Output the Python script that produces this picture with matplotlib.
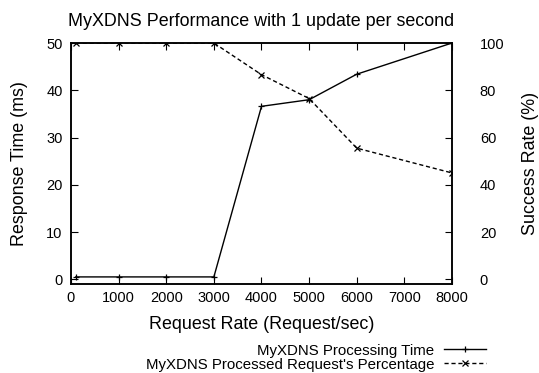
import numpy as np
import matplotlib.pyplot as plt
from matplotlib.lines import Line2D

plt.rcParams['font.family'] = ['Liberation Sans', 'DejaVu Sans']

rate = [100, 1000, 2000, 3000, 4000, 5000, 6000, 8000]
resp_time = [0.5, 0.5, 0.5, 0.5, 36.6, 38.0, 43.4, 50.0]
success = [100, 100, 100, 100, 86.6, 76.5, 55.5, 45.0]

title = "MyXDNS Performance with 1 update per second"
xlabel = "Request Rate (Request/sec)"
ylabel = "Response Time (ms)"
y2label = "Success Rate (%)"
label1 = "MyXDNS Processing Time"
label2 = "MyXDNS Processed Request's Percentage"

fig = plt.figure(figsize=(5.39, 3.73), dpi=100)
ax = fig.add_axes([0.1317, 0.2386, 0.7069, 0.6461])
ax2 = ax.twinx()

ax.plot(rate, resp_time, color='black', lw=1.0, marker='+', ms=5, mew=0.9)
ax2.plot(rate, success, color='black', lw=1.0, ls=(0, (3, 2)), marker='x', ms=4.5, mew=0.9)

ax.set_xlim(0, 8000)
ax.set_ylim(-1, 50)
ax2.set_ylim(-2, 100)
ax.set_xticks(np.arange(0, 8001, 1000))
ax.set_yticks(np.arange(0, 51, 10))
ax2.set_yticks(np.arange(0, 101, 20))

ax.tick_params(axis='x', direction='in', top=True, labelsize=10.5, length=5, pad=5)
ax.tick_params(axis='y', direction='in', labelsize=10.5, length=5, pad=6)
ax2.tick_params(axis='y', direction='in', labelsize=10.5, length=5, pad=20)

for a in (ax, ax2):
    for s in a.spines.values():
        s.set_linewidth(1.1)

ax.set_title(title, fontsize=12.9, pad=12)
ax.set_xlabel(xlabel, fontsize=12.9, labelpad=8)
ax.set_ylabel(ylabel, fontsize=12.9, labelpad=13)
ax2.set_ylabel(y2label, fontsize=12.9, labelpad=13)

# key below the plot, text first then the sample line
h1 = Line2D([], [], color='black', lw=1.0, marker='+', ms=5, mew=0.9)
h2 = Line2D([], [], color='black', lw=1.0, ls=(0, (3, 2)), marker='x', ms=4.5, mew=0.9)
fig.legend([h1, h2], [label1, label2], loc='upper right', bbox_to_anchor=(0.902, 0.079),
           frameon=False, markerfirst=False, fontsize=10.8, handlelength=2.8,
           handletextpad=0.65, labelspacing=0.0, borderaxespad=0, borderpad=0)

fig.savefig("out.png", dpi=100)
